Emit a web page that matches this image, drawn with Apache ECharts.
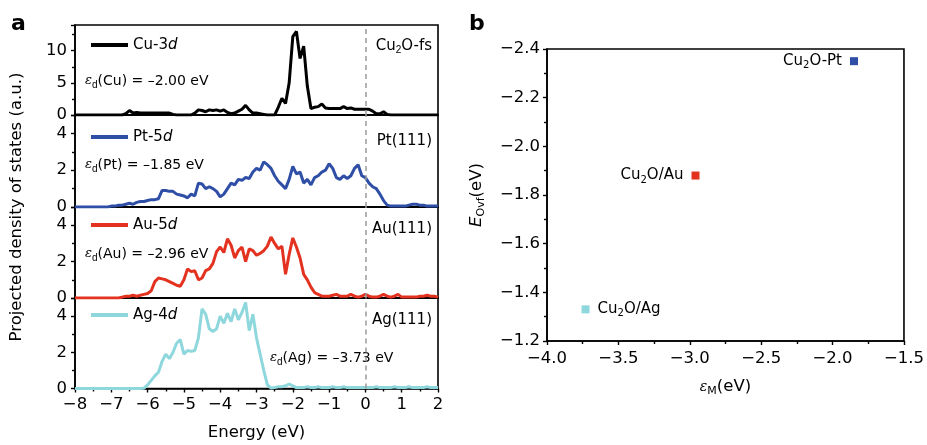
<!DOCTYPE html>
<html>
<head>
<meta charset="utf-8">
<script src="https://cdn.jsdelivr.net/npm/echarts@6/dist/echarts.min.js"></script>
<style>
  html, body { margin: 0; padding: 0; background: #fff; }
  #chart { width: 927px; height: 445px; }
</style>
</head>
<body>
<div id="chart"></div>
<script>
// PDOS panels (a) + E_Ovf vs d-band centre (b)

// energy grid of the PDOS curves, eV
var E_START = -8, E_STEP = 0.1, E_COUNT = 101;

var cuDos = [
  0, 0, 0, 0, 0, 0, 0, 0, 0, 0, 0, 0, 0, 0,
  0.2, 0.7, 0.3, 0.4,
  0.3, 0.3, 0.3, 0.3, 0.3, 0.3, 0.3, 0.3, 0.3,
  0.1,
  0, 0, 0, 0, 0,
  0.3, 0.8, 0.7, 0.5, 0.8, 0.7, 0.8, 0.6, 0.8, 0.4,
  0.2, 0.3, 0.6, 0.9, 1.5, 0.8, 0.3, 0.3, 0.2, 0.1,
  0, 0, 0,
  1.2, 2.6, 1.8, 5, 12.2, 13.0, 8.8, 10.7, 4.5, 1.0,
  1.2, 1.3, 1.7, 1.1, 1.0, 1.0, 1.0, 1.0, 1.3, 1.0,
  1.1, 0.9, 0.9, 0.9, 0.9, 0.9, 0.6, 0.2, 0.2, 0.5,
  0.1,
  0, 0, 0, 0, 0, 0, 0, 0, 0, 0, 0, 0, 0, 0
];

var ptDos = [
  0, 0, 0, 0, 0, 0, 0, 0, 0, 0,
  0.05, 0.05, 0.1, 0.1, 0.15, 0.2, 0.15, 0.25, 0.3, 0.3,
  0.35, 0.4, 0.4, 0.45, 0.9, 0.9, 0.85, 0.85, 0.7, 0.65,
  0.6, 0.5, 0.7, 0.6, 1.3, 1.25, 1.0, 1.1, 1.0, 0.85,
  0.55, 0.7, 1.0, 1.3, 1.2, 1.5, 1.45, 1.6, 1.55, 1.9,
  2.1, 2.0, 2.45, 2.3, 2.1, 1.7, 1.4, 1.2, 1.0, 1.5,
  2.2, 1.8, 1.9, 1.3, 1.5, 1.2, 1.6, 1.7, 1.9, 2.0,
  2.35, 2.1, 1.6, 1.5, 1.7, 1.55, 1.7, 2.1, 2.3, 1.7,
  1.6, 1.3, 1.1, 1.0, 0.7, 0.35, 0.1, 0.05, 0.05, 0.05,
  0.05, 0.05, 0.1, 0.15, 0.15, 0.1, 0.1, 0.05, 0.05, 0.05,
  0.05
];

var auDos = [
  0, 0, 0, 0, 0, 0, 0, 0, 0, 0, 0, 0, 0,
  0.05, 0.1, 0.1, 0.15, 0.1, 0.15, 0.2, 0.25, 0.4, 0.9,
  1.1, 1.05, 1.0, 0.9, 0.8, 0.7, 0.65, 1.0, 1.6, 1.45,
  1.5, 1.0, 1.1, 1.5, 1.6, 1.9, 2.55, 2.8, 2.5, 3.25,
  2.9, 2.2, 2.6, 2.8, 2.0, 2.7, 2.6, 2.35, 2.45, 2.6,
  2.85, 3.35, 3.0, 2.7, 2.85, 1.3, 2.4, 3.3, 2.8, 2.2,
  1.3, 1.0, 0.6, 0.3, 0.2, 0.1, 0.1, 0.1, 0.15, 0.2,
  0.1, 0.1, 0.1, 0.2, 0.1, 0.05, 0.1, 0.2, 0.1, 0.05,
  0.05, 0.1, 0.2, 0.1, 0.05, 0.1, 0.2, 0.05, 0.05, 0.05,
  0.05, 0.05, 0.1, 0.1, 0.15, 0.1, 0.1, 0.05
];

var agDos = [
  0, 0, 0, 0, 0, 0, 0, 0, 0, 0, 0, 0, 0, 0, 0, 0, 0, 0, 0,
  0.02, 0.2, 0.45, 0.7, 0.9, 1.5, 1.9, 1.65, 2.0, 2.5,
  2.7, 1.9, 2.1, 2.05, 2.1, 2.8, 4.4, 4.1, 3.3, 3.15,
  3.3, 4.0, 3.6, 4.15, 3.7, 4.4, 3.8, 4.2, 4.75, 3.2,
  4.1, 2.8, 1.9, 1.0, 0.2, 0.02, 0.05, 0.1, 0.1, 0.15,
  0.25, 0.15, 0.05, 0.05, 0.05, 0.1, 0.05, 0.05, 0.1, 0.05,
  0.05, 0.05, 0.1, 0.05, 0.05, 0.1, 0.05, 0.05, 0.05, 0.05,
  0.05, 0.05, 0.05, 0.05, 0.1, 0.05, 0.05, 0.05, 0.05, 0.1,
  0.05, 0.05, 0.05, 0.1, 0.05, 0.05, 0.05, 0.05, 0.1, 0.05,
  0.05, 0.05
];

var dosNames = ['Cu-3d', 'Pt-5d', 'Au-5d', 'Ag-4d'];
var surfaceNames = ['Cu{s|2}O-fs', 'Pt(111)', 'Au(111)', 'Ag(111)'];
var dbandLabels = ['(Cu) = \u20132.00 eV', '(Pt) = \u20131.85 eV', '(Au) = \u20132.96 eV', '(Ag) = \u20133.73 eV'];

// panel b
var sampleNames = ['Cu2O-Pt', 'Cu2O/Au', 'Cu2O/Ag'];
var epsM = [-1.85, -2.96, -3.73];
var eOvf = [-2.35, -1.88, -1.33];

(function () {
  var FONT = 'DejaVu Sans';
  var colors = ['#000000', '#2f4ea6', '#e3321f', '#8ed7dd'];
  var pointColors = ['#2f4ea6', '#e3321f', '#8ed7dd'];
  var labelSide = ['left', 'left', 'right'];

  var panelTop = [25, 115, 207, 298];
  var panelH = [90, 92, 91, 90.5];
  var yMax = [14, 5, 5, 5];
  var yStep = [5, 2, 2, 2];
  var legendTop = [37.5, 129.5, 217.5, 307.5];
  var annY = [81, 165, 254, 358];
  var annX = [85, 85, 85, 270];
  var surfY = [46, 141, 229, 320];

  var energy = [];
  for (var k = 0; k < E_COUNT; k++) energy.push(Math.round((E_START + k * E_STEP) * 10) / 10);
  var dosList = [cuDos, ptDos, auDos, agDos];

  function minus(s) { return String(s).replace('-', '\u2212'); }
  var black = { color: '#000', width: 1.6 };
  var tickStyle = { color: '#000', width: 1.4 };
  var labelFont = { color: '#000', fontFamily: FONT, fontSize: 16.5 };

  var grid = [], xAxis = [], yAxis = [], series = [], legend = [], graphic = [];

  for (var i = 0; i < 4; i++) {
    var last = i === 3;
    grid.push({ left: 75, top: panelTop[i], width: 363, height: panelH[i], show: true, borderColor: '#000', borderWidth: 1.6 });
    xAxis.push({
      gridIndex: i, type: 'value', min: -8, max: 2, interval: 1,
      axisLine: { show: true, onZero: false, lineStyle: black },
      axisTick: { show: last, length: 4, lineStyle: tickStyle },
      minorTick: { show: last, splitNumber: 2, length: 3, lineStyle: tickStyle },
      splitLine: { show: false },
      axisLabel: Object.assign({ show: last, margin: 8, formatter: function (v) { return minus(v); } }, labelFont),
      name: last ? 'Energy (eV)' : '', nameLocation: 'middle', nameGap: 36,
      nameTextStyle: labelFont
    });
    (function (step) {
      yAxis.push({
        gridIndex: i, type: 'value', min: 0, max: yMax[i], interval: step,
        axisLine: { show: true, onZero: false, lineStyle: black },
        axisTick: { show: true, length: 4, lineStyle: tickStyle },
        minorTick: { show: true, splitNumber: 2, length: 3, lineStyle: tickStyle },
        splitLine: { show: false },
        axisLabel: Object.assign({ margin: 8, formatter: function (v) { return v % step === 0 ? String(v) : ''; } }, labelFont)
      });
    })(yStep[i]);
    var d = dosList[i];
    series.push({
      type: 'line', name: dosNames[i], xAxisIndex: i, yAxisIndex: i,
      data: energy.map(function (e, j) { return [e, d[j]]; }),
      symbol: 'none', clip: true,
      lineStyle: { color: colors[i], width: 3 },
      itemStyle: { color: colors[i] },
      markLine: {
        silent: true, symbol: 'none', label: { show: false },
        lineStyle: { color: '#9a9a9a', type: [5, 4], width: 1.5 },
        data: [{ xAxis: 0 }]
      }
    });
    legend.push({
      data: [dosNames[i]], left: 91, top: legendTop[i], padding: 0,
      icon: 'rect', itemWidth: 37, itemHeight: 4,
      formatter: function (n) { return n.slice(0, -1) + '{i|d}'; },
      textStyle: { color: '#000', fontFamily: FONT, fontSize: 15,
        rich: { i: { fontStyle: 'italic', fontFamily: FONT, fontSize: 15 } } }
    });
    graphic.push({
      type: 'text', x: annX[i], y: annY[i],
      style: {
        text: '{e|\u03b5}{s|d}' + dbandLabels[i], fill: '#000', fontFamily: FONT, fontSize: 14,
        verticalAlign: 'middle',
        rich: { e: { fontFamily: 'DejaVu Serif', fontStyle: 'italic', fontSize: 13 },
                s: { fontSize: 10, padding: [9, 0, 0, 0] } }
      }
    });
    graphic.push({
      type: 'text', x: 432, y: surfY[i],
      style: {
        text: surfaceNames[i], fill: '#000', fontFamily: FONT, fontSize: 15,
        align: 'right', verticalAlign: 'middle',
        rich: { s: { fontSize: 10, padding: [9, 0, 0, 0] } }
      }
    });
  }

  // panel b
  grid.push({ left: 547, top: 49, width: 362, height: 292, show: true, borderColor: '#000', borderWidth: 1.6 });
  xAxis.push({
    gridIndex: 4, type: 'value', min: -4, max: -1.5, interval: 0.5,
    axisLine: { show: true, onZero: false, lineStyle: black },
    axisTick: { show: true, length: 4, lineStyle: tickStyle },
    minorTick: { show: true, splitNumber: 2, length: 3, lineStyle: tickStyle },
    splitLine: { show: false },
    axisLabel: Object.assign({ margin: 9, formatter: function (v) { return minus(v.toFixed(1)); } }, labelFont),
    name: '{e|\u03b5}{s|M}(eV)', nameLocation: 'middle', nameGap: 36,
    nameTextStyle: Object.assign({ rich: {
      e: { fontFamily: 'DejaVu Serif', fontStyle: 'italic', fontSize: 14 },
      s: { fontSize: 11, padding: [9, 0, 0, 0] } } }, labelFont)
  });
  yAxis.push({
    gridIndex: 4, type: 'value', min: -2.4, max: -1.2, interval: 0.2, inverse: true,
    axisLine: { show: true, onZero: false, lineStyle: black },
    axisTick: { show: true, length: 4, lineStyle: tickStyle },
    minorTick: { show: true, splitNumber: 2, length: 3, lineStyle: tickStyle },
    splitLine: { show: false },
    axisLabel: Object.assign({ margin: 7, formatter: function (v) { return minus(v.toFixed(1)); } }, labelFont),
    name: '{i|E}{s|Ovf}(eV)', nameLocation: 'middle', nameGap: 60, nameRotate: 90,
    nameTextStyle: Object.assign({ rich: {
      i: { fontStyle: 'italic', fontFamily: FONT, fontSize: 16.5 },
      s: { fontSize: 11, padding: [9, 0, 0, 0] } } }, labelFont)
  });
  series.push({
    type: 'scatter', xAxisIndex: 4, yAxisIndex: 4, symbol: 'rect', symbolSize: 8,
    itemStyle: { opacity: 1 },
    data: sampleNames.map(function (n, j) {
      return { name: n, value: [epsM[j], eOvf[j]], itemStyle: { color: pointColors[j], opacity: 1 },
        label: { position: labelSide[j] } };
    }),
    label: {
      show: true, distance: 8, color: '#000', opacity: 1, fontFamily: FONT, fontSize: 15,
      formatter: function (p) { return p.name.replace('2', '{s|2}'); },
      rich: { s: { color: '#000', fontSize: 10, padding: [9, 0, 0, 0] } }
    }
  });

  graphic.push({ type: 'text', x: 17, y: 207, rotation: Math.PI / 2,
    style: { text: 'Projected density of states (a.u.)', fill: '#000', fontFamily: FONT, fontSize: 16.5,
      align: 'center', verticalAlign: 'middle' } });
  graphic.push({ type: 'text', x: 11, y: 24,
    style: { text: 'a', fill: '#000', fontFamily: FONT, fontWeight: 'bold', fontSize: 22, verticalAlign: 'middle' } });
  graphic.push({ type: 'text', x: 469, y: 24,
    style: { text: 'b', fill: '#000', fontFamily: FONT, fontWeight: 'bold', fontSize: 22, verticalAlign: 'middle' } });

  var chart = echarts.init(document.getElementById('chart'), null, { renderer: 'canvas' });
  chart.setOption({
    animation: false,
    backgroundColor: '#fff',
    grid: grid, xAxis: xAxis, yAxis: yAxis, legend: legend, series: series, graphic: graphic
  });
})();
</script>
</body>
</html>
